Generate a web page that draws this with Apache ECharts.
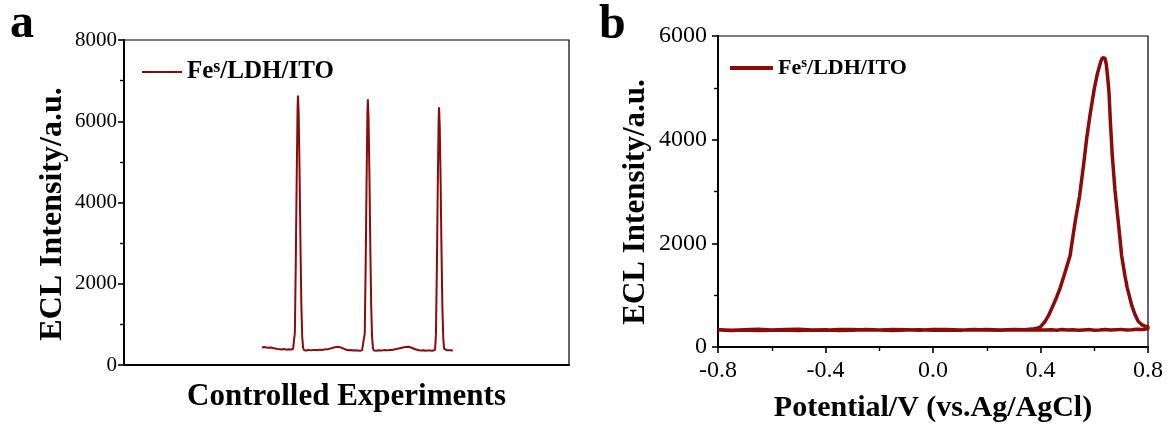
<!DOCTYPE html>
<html>
<head>
<meta charset="utf-8">
<script src="https://cdn.jsdelivr.net/npm/echarts@6/dist/echarts.min.js"></script>
<style>html,body{margin:0;padding:0;background:#fff}#c{width:1168px;height:428px}</style>
</head>
<body>
<div id="c"></div>
<script>
// ---- Data ----
const legendLabel = 'Fes/LDH/ITO';
const yTicksA = [0, 2000, 4000, 6000, 8000];
const yTicksB = [0, 2000, 4000, 6000];
const xTicksB = [-0.8, -0.4, 0.0, 0.4, 0.8];

// Panel a: three ECL pulses along an arbitrary (unlabelled) axis 0..100
const traceA = [
  [31.0,430],[31.5,445],[32.0,430],[32.5,425],[33.0,432],[33.5,418],[34.0,405],[34.5,392],[35.0,388],
  [35.5,380],[36.0,392],[36.5,378],[37.0,386],[37.5,380],[38.0,395],
  [38.2,390],[38.4,800],[38.6,2500],[38.8,4500],[39.0,6300],[39.1,6630],[39.25,6200],[39.45,4800],
  [39.65,3000],[39.85,1500],[40.05,700],[40.25,420],[40.5,360],
  [41.0,355],[41.5,372],[42.0,360],[42.5,368],[43.0,372],[43.5,362],[44.0,378],[44.5,370],[45.0,380],
  [45.5,385],[46.0,395],[46.5,410],[47.0,425],[47.5,440],[48.0,448],[48.5,440],[49.0,420],[49.5,395],
  [50.0,375],[50.5,362],[51.0,368],[51.5,355],[52.0,362],[52.5,358],[53.0,352],[53.5,360],
  [53.9,370],[54.1,780],[54.3,2400],[54.5,4400],[54.7,6200],[54.8,6540],[54.95,6100],[55.15,4700],
  [55.35,2900],[55.55,1450],[55.75,680],[55.95,410],[56.2,355],
  [56.7,350],[57.2,365],[57.7,358],[58.2,362],[58.7,370],[59.2,360],[59.7,372],[60.2,368],[60.7,380],
  [61.2,392],[61.7,405],[62.2,420],[62.7,432],[63.3,445],[63.8,450],[64.3,438],[64.8,418],[65.3,395],
  [65.8,375],[66.3,365],[66.8,358],[67.3,365],[67.8,352],[68.3,360],[68.8,355],[69.3,350],[69.7,362],
  [69.9,372],[70.1,760],[70.3,2300],[70.5,4300],[70.7,6000],[70.8,6343],[70.95,5900],[71.15,4500],
  [71.35,2800],[71.55,1400],[71.75,650],[71.95,400],[72.2,355],
  [72.6,362],[73.0,350],[73.4,365],[73.9,355]
];

// Panel b: ECL-potential curve, forward scan (with peak) then reverse scan
const traceB = [
  [-0.80,335],[-0.75,322],[-0.70,332],[-0.65,342],[-0.60,326],[-0.55,336],[-0.50,344],[-0.45,330],
  [-0.40,322],[-0.35,336],[-0.30,340],[-0.25,330],[-0.20,326],[-0.15,336],[-0.10,332],[-0.05,322],
  [0.00,336],[0.05,340],[0.10,330],[0.15,326],[0.20,336],[0.25,330],[0.30,340],[0.34,334],
  [0.37,345],[0.39,368],[0.398,380],[0.417,492],[0.433,640],[0.448,814],[0.460,960],[0.473,1136],
  [0.490,1420],[0.510,1760],[0.528,2385],[0.545,2900],[0.560,3500],[0.572,4032],[0.585,4500],
  [0.600,4980],[0.612,5280],[0.624,5500],[0.630,5580],[0.634,5608],[0.640,5570],[0.645,5450],
  [0.650,5200],[0.655,4900],[0.660,4350],[0.667,3700],[0.677,3029],[0.690,2385],[0.702,1760],
  [0.714,1380],[0.723,1136],[0.739,814],[0.752,620],[0.764,492],[0.778,425],[0.790,400],[0.800,392],
  [0.80,350],[0.78,338],[0.76,344],[0.74,332],[0.72,328],[0.70,340],[0.68,335],[0.66,326],[0.64,338],
  [0.62,330],[0.60,324],[0.58,336],[0.56,330],[0.54,322],[0.52,334],[0.50,328],[0.48,336],[0.46,325],
  [0.44,332],[0.42,328],[0.40,334],[0.35,326],[0.30,332],[0.25,322],[0.20,330],[0.15,336],[0.10,324],
  [0.05,328],[0.00,322],[-0.05,334],[-0.10,326],[-0.15,318],[-0.20,330],[-0.25,336],[-0.30,324],
  [-0.35,320],[-0.40,332],[-0.45,326],[-0.50,318],[-0.55,330],[-0.60,322],[-0.65,316],[-0.70,328],
  [-0.75,320],[-0.80,326]
];

// ---- Chart ----
const RED = '#8B0A0A';
const FONT = '"Liberation Serif", "Times New Roman", serif';
const chart = echarts.init(document.getElementById('c'), null, {renderer: 'canvas'});

function legendRich(size) {
  return {
    b: {fontFamily: FONT, fontWeight: 'bold', fontSize: size, color: '#000'},
    sup: {fontFamily: FONT, fontWeight: 'bold', fontSize: Math.round(size * 0.7), color: '#000', verticalAlign: 'top', padding: [0, 0, Math.round(size*0.4), 0]}
  };
}
const legendFmt = () => '{b|Fe}{sup|s}{b|/LDH/ITO}';

const axisLineStyle = {color: '#000', width: 2};
const plainNum = v => String(v);
const majorTick = {length: 6, lineStyle: {width: 1.6, color: '#000'}};
const minorTick = {show: true, splitNumber: 2, length: 4, lineStyle: {width: 1.4, color: '#000'}};

chart.setOption({
  animation: false,
  backgroundColor: '#fff',
  grid: [
    {left: 124, right: 1168 - 569, top: 40, bottom: 428 - 365, show: true, borderColor: '#000', borderWidth: 1.2},
    {left: 718, right: 1168 - 1148, top: 36, bottom: 428 - 353, show: true, borderColor: '#000', borderWidth: 1.2}
  ],
  legend: [
    {data: ['a'], left: 142, top: 58, padding: 0, icon: 'rect', itemWidth: 40, itemHeight: 2, formatter: legendFmt,
     textStyle: {rich: legendRich(25)}},
    {data: ['b'], left: 730, top: 56, padding: 0, icon: 'rect', itemWidth: 43, itemHeight: 4, formatter: legendFmt,
     textStyle: {rich: legendRich(22)}}
  ],
  xAxis: [
    {gridIndex: 0, type: 'value', min: 0, max: 100,
     name: 'Controlled Experiments', nameLocation: 'middle', nameGap: 16,
     nameTextStyle: {fontFamily: FONT, fontWeight: 'bold', fontSize: 31, color: '#000'},
     axisLine: {onZero: false, lineStyle: axisLineStyle}, axisTick: {show: false}, axisLabel: {show: false}, splitLine: {show: false}},
    {gridIndex: 1, type: 'value', min: -0.8, max: 0.8, interval: 0.4,
     name: 'Potential/V (vs.Ag/AgCl)', nameLocation: 'middle', nameGap: 46,
     nameTextStyle: {fontFamily: FONT, fontWeight: 'bold', fontSize: 30, color: '#000'},
     axisLine: {onZero: false, lineStyle: axisLineStyle}, axisTick: majorTick, minorTick: minorTick,
     axisLabel: {fontFamily: FONT, fontSize: 24, color: '#000', margin: 12,
       formatter: v => (Math.abs(v) < 1e-9 ? 0 : v).toFixed(1)},
     splitLine: {show: false}}
  ],
  yAxis: [
    {gridIndex: 0, type: 'value', min: 0, max: 8000, interval: 2000,
     axisLine: {onZero: false, lineStyle: axisLineStyle}, axisTick: majorTick, minorTick: minorTick,
     axisLabel: {fontFamily: FONT, fontSize: 21, color: '#000', margin: 7, formatter: plainNum},
     splitLine: {show: false}},
    {gridIndex: 1, type: 'value', min: 0, max: 6000, interval: 2000,
     axisLine: {onZero: false, lineStyle: axisLineStyle}, axisTick: majorTick, minorTick: minorTick,
     axisLabel: {fontFamily: FONT, fontSize: 24, color: '#000', margin: 11, formatter: plainNum},
     splitLine: {show: false}}
  ],
  series: [
    {name: 'a', type: 'line', xAxisIndex: 0, yAxisIndex: 0, data: traceA, showSymbol: false, symbol: 'none',
     lineStyle: {color: RED, width: 2}, itemStyle: {color: RED}},
    {name: 'b', type: 'line', xAxisIndex: 1, yAxisIndex: 1, data: traceB, showSymbol: false, symbol: 'none',
     lineStyle: {color: RED, width: 3.5}, itemStyle: {color: RED}}
  ],
  graphic: [
    {type: 'text', left: 10, top: 1, style: {text: 'a', font: 'bold 48px ' + FONT, fill: '#000'}},
    {type: 'text', left: 599, top: 2, style: {text: 'b', font: 'bold 48px ' + FONT, fill: '#000'}},
    {type: 'text', x: 53, y: 214, rotation: Math.PI / 2,
     style: {text: 'ECL Intensity/a.u.', font: 'bold 32px ' + FONT, fill: '#000', align: 'center', verticalAlign: 'middle'}},
    {type: 'text', x: 636, y: 202, rotation: Math.PI / 2,
     style: {text: 'ECL Intensity/a.u.', font: 'bold 31px ' + FONT, fill: '#000', align: 'center', verticalAlign: 'middle'}}
  ]
});
</script>
</body>
</html>
